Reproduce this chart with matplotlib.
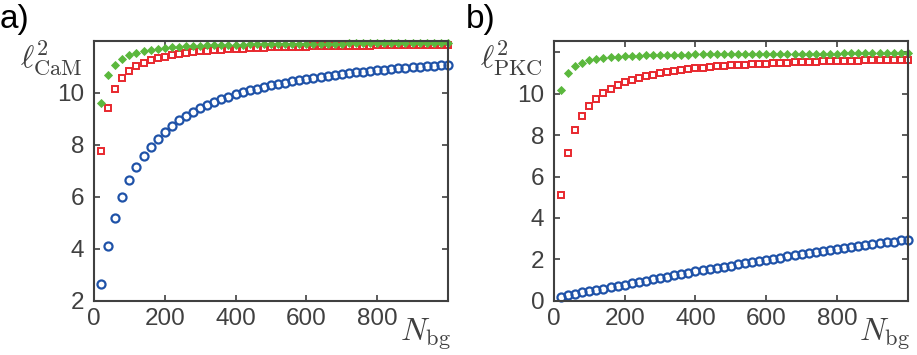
import matplotlib
matplotlib.use('Agg')
import matplotlib.pyplot as plt

plt.rcParams['font.family'] = ['Liberation Sans', 'DejaVu Sans']
plt.rcParams['mathtext.fontset'] = 'cm'

# background molecule count
n_bg = list(range(20, 1001, 20))

# panel a) l^2 CaM
cam_blue = [2.63, 4.10, 5.17, 5.99, 6.63, 7.15, 7.56, 7.92, 8.23, 8.50,
            8.73, 8.94, 9.12, 9.28, 9.42, 9.55, 9.66, 9.77, 9.86, 9.95,
            10.03, 10.10, 10.17, 10.24, 10.30, 10.35, 10.40, 10.45, 10.50, 10.54,
            10.58, 10.62, 10.66, 10.70, 10.73, 10.76, 10.79, 10.82, 10.85, 10.88,
            10.90, 10.93, 10.95, 10.97, 10.99, 11.01, 11.03, 11.05, 11.07, 11.08]
cam_red = [7.78, 9.43, 10.15, 10.58, 10.84, 11.02, 11.15, 11.25, 11.33, 11.40,
           11.45, 11.50, 11.54, 11.58, 11.61, 11.63, 11.65, 11.67, 11.69, 11.70,
           11.71, 11.72, 11.73, 11.74, 11.75, 11.76, 11.76, 11.77, 11.78, 11.78,
           11.79, 11.79, 11.80, 11.80, 11.81, 11.81, 11.82, 11.82, 11.82, 11.83,
           11.83, 11.83, 11.84, 11.84, 11.84, 11.85, 11.85, 11.85, 11.86, 11.86]
cam_green = [9.63, 10.68, 11.08, 11.32, 11.46, 11.55, 11.62, 11.67, 11.71, 11.74,
             11.76, 11.78, 11.80, 11.81, 11.82, 11.83, 11.84, 11.85, 11.85, 11.86,
             11.86, 11.87, 11.87, 11.88, 11.88, 11.88, 11.89, 11.89, 11.89, 11.89,
             11.90, 11.90, 11.90, 11.90, 11.90, 11.91, 11.91, 11.91, 11.91, 11.91,
             11.91, 11.92, 11.92, 11.92, 11.92, 11.92, 11.92, 11.92, 11.93, 11.93]

# panel b) l^2 PKC
pkc_blue = [0.20, 0.27, 0.34, 0.40, 0.46, 0.52, 0.58, 0.65, 0.71, 0.77,
            0.84, 0.90, 0.97, 1.03, 1.10, 1.16, 1.23, 1.29, 1.36, 1.42,
            1.48, 1.53, 1.59, 1.64, 1.70, 1.76, 1.81, 1.87, 1.92, 1.98,
            2.03, 2.08, 2.14, 2.19, 2.24, 2.29, 2.35, 2.40, 2.45, 2.50,
            2.55, 2.59, 2.64, 2.68, 2.73, 2.77, 2.82, 2.86, 2.91, 2.95]
pkc_red = [5.09, 7.13, 8.24, 8.94, 9.42, 9.77, 10.02, 10.24, 10.41, 10.55,
           10.67, 10.77, 10.86, 10.93, 11.00, 11.06, 11.11, 11.15, 11.19, 11.23,
           11.26, 11.29, 11.32, 11.35, 11.37, 11.39, 11.41, 11.43, 11.45, 11.46,
           11.48, 11.49, 11.50, 11.52, 11.53, 11.54, 11.55, 11.56, 11.57, 11.58,
           11.59, 11.60, 11.60, 11.61, 11.62, 11.63, 11.63, 11.64, 11.65, 11.65]
pkc_green = [10.18, 11.01, 11.34, 11.51, 11.61, 11.68, 11.73, 11.77, 11.79, 11.81,
             11.83, 11.84, 11.85, 11.86, 11.87, 11.88, 11.88, 11.89, 11.89, 11.90,
             11.90, 11.90, 11.91, 11.91, 11.91, 11.92, 11.92, 11.92, 11.92, 11.93,
             11.93, 11.93, 11.93, 11.93, 11.94, 11.94, 11.94, 11.94, 11.94, 11.94,
             11.95, 11.95, 11.95, 11.95, 11.95, 11.95, 11.95, 11.95, 11.95, 11.95]

x_ticks = [0, 200, 400, 600, 800]
ya_ticks = [2, 4, 6, 8, 10, 12]
yb_ticks = [0, 2, 4, 6, 8, 10, 12]

blue = '#1f52a8'
red = '#e8282e'
green = '#5bb83d'
axc = '#404040'

fig = plt.figure(figsize=(9.17, 3.55), dpi=100)
ax_a = fig.add_axes([0.1025, 0.153, 0.386, 0.7315])
ax_b = fig.add_axes([0.604, 0.153, 0.386, 0.7315])

panels = [
    (ax_a, cam_blue, cam_red, cam_green, (2, 12), ya_ticks, r'$\ell^2_{\mathrm{CaM}}$', 'a)', 0.0),
    (ax_b, pkc_blue, pkc_red, pkc_green, (0, 12.55), yb_ticks, r'$\ell^2_{\mathrm{PKC}}$', 'b)', 0.508),
]

for ax, yb, yr, yg, ylim, yt, ylab, tag, tx in panels:
    ax.plot(n_bg, yb, 'o', color=blue, mfc='none', ms=5.8, mew=1.6, clip_on=False)
    ax.plot(n_bg, yr, 's', color=red, mfc='none', ms=4.0, mew=1.4, clip_on=False)
    ax.plot(n_bg, yg, 'D', color=green, mec=green, ms=4.5, mew=0.6, clip_on=False)
    ax.set_xlim(0, 1000)
    ax.set_ylim(*ylim)
    ax.set_xticks(x_ticks)
    ax.set_yticks(yt)
    ax.set_yticklabels([str(v) if v != 12 else '' for v in yt])
    ax.tick_params(direction='in', length=4, width=1.2, colors=axc, labelsize=17.5,
                   top=True, right=True)
    ax.tick_params(axis='y', pad=7)
    ax.tick_params(axis='x', pad=5)
    for s in ax.spines.values():
        s.set_color(axc)
        s.set_linewidth(1.5)
    ax.text(-0.12, 0.935, ylab, transform=ax.transAxes, fontsize=23,
            ha='center', va='center', color=axc)
    ax.text(0.935, -0.13, r'$N_{\mathrm{bg}}$', transform=ax.transAxes, fontsize=23,
            ha='center', va='center', color=axc)
    fig.text(tx, 0.945, tag, fontsize=24, ha='left', va='center', color='black')

fig.savefig('out.png', dpi=100)
